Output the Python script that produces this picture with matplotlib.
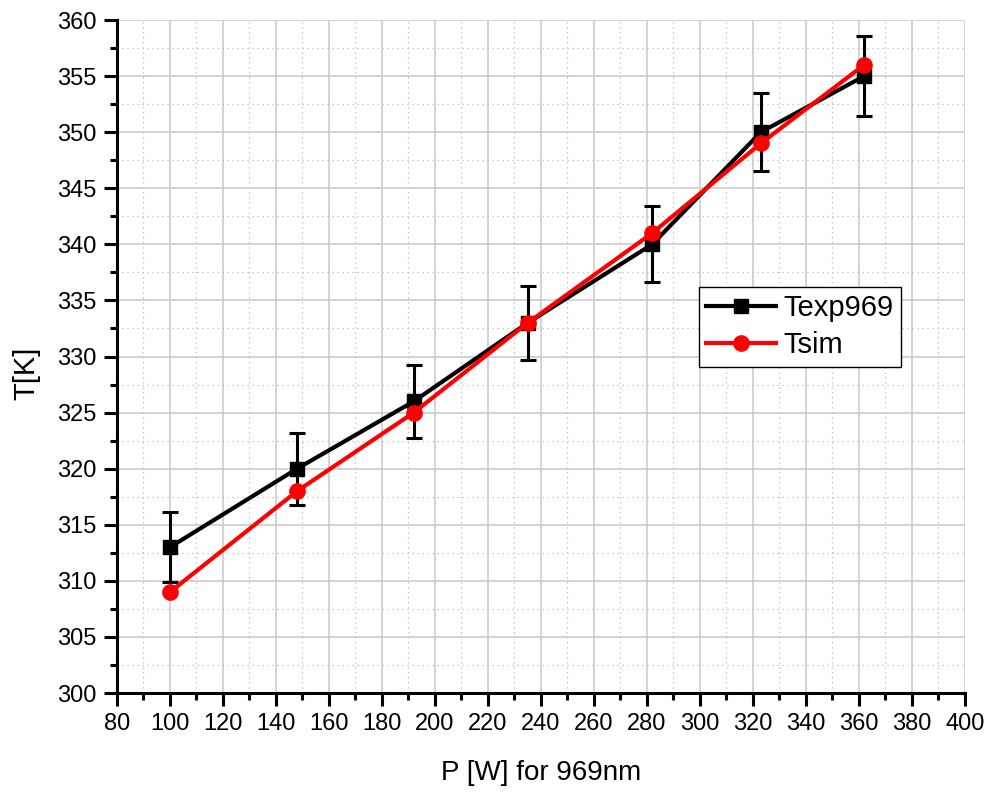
import matplotlib
matplotlib.use("Agg")
import matplotlib.pyplot as plt
from matplotlib.ticker import MultipleLocator

power = [100, 148, 192, 235, 282, 323, 362]
t_exp = [313, 320, 326, 333, 340, 350, 355]
t_exp_err = [3.13, 3.2, 3.26, 3.33, 3.4, 3.5, 3.55]
t_sim = [309, 318, 325, 333, 341, 349, 356]

plt.rcParams['font.family'] = ['Liberation Sans', 'DejaVu Sans']

fig = plt.figure(figsize=(9.87, 7.92), dpi=100)
ax = fig.add_axes([0.1185, 0.125, 0.859, 0.8497])

exp = ax.errorbar(power, t_exp, yerr=t_exp_err, color='black', lw=3.0,
                  marker='s', ms=9.5, elinewidth=2.2, capsize=5.5,
                  capthick=2.2, zorder=3)
sim, = ax.plot(power, t_sim, color='#ff0000', lw=3.0, marker='o', ms=11,
               zorder=4)

ax.set_xlim(80, 400)
ax.set_ylim(300, 360)
ax.xaxis.set_major_locator(MultipleLocator(20))
ax.xaxis.set_minor_locator(MultipleLocator(10))
ax.yaxis.set_major_locator(MultipleLocator(5))
ax.yaxis.set_minor_locator(MultipleLocator(2.5))

ax.grid(which='major', color='#cccccc', lw=1.2, ls='-', zorder=0)
ax.grid(which='minor', color='#bbbbbb', lw=0.9, ls=(0, (1, 3)), zorder=0)
ax.set_axisbelow(True)

for side in ('top', 'right'):
    ax.spines[side].set_visible(False)
for side in ('left', 'bottom'):
    ax.spines[side].set_linewidth(2.2)

ax.tick_params(which='major', direction='out', length=9.5, width=2.2,
               labelsize=17, pad=5)
ax.tick_params(which='minor', direction='out', length=5, width=2.2)

ax.set_xlabel('P [W] for 969nm', fontsize=20, labelpad=18)
ax.set_ylabel('T[K]', fontsize=21, labelpad=12)
ax.yaxis.label.set_y(0.475)

leg = ax.legend([exp.lines[0], sim], ['Texp969', 'Tsim'],
                loc='upper left', bbox_to_anchor=(0.686, 0.603),
                fontsize=21, frameon=True, fancybox=False, framealpha=1,
                edgecolor='black', borderpad=0.25, handlelength=2.4,
                handletextpad=0.25, labelspacing=0.3, borderaxespad=0)
leg.get_frame().set_linewidth(1.0)

fig.savefig('out.png', dpi=100)
